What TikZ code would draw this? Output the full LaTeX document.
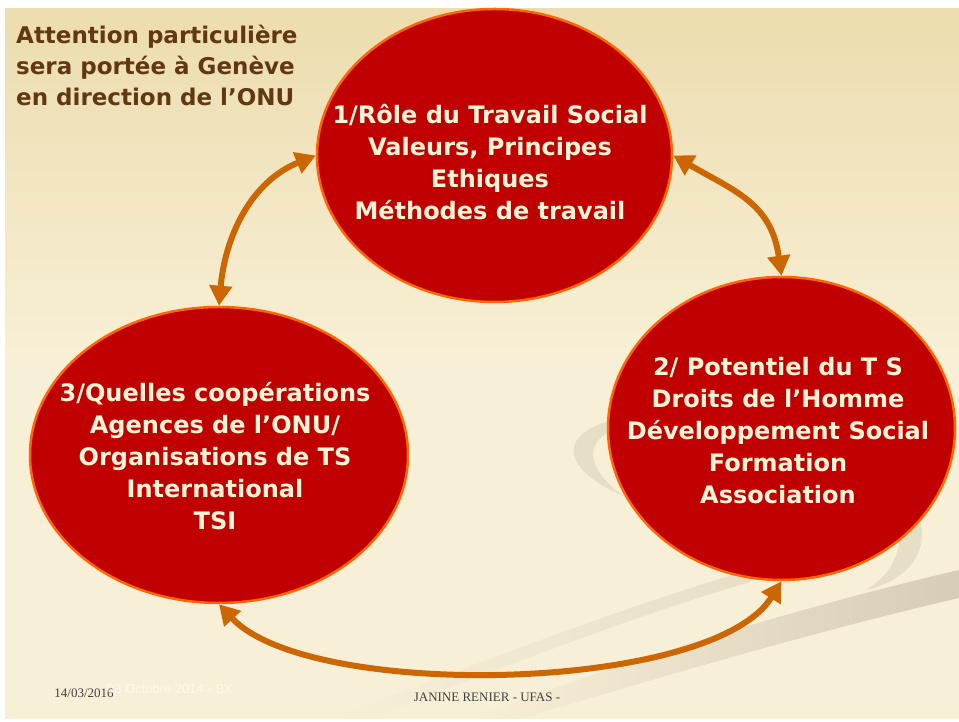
\documentclass[tikz,border=0pt]{standalone}
\usepackage{fontspec}
\setmainfont{DejaVu Sans}
\newfontfamily\footserif{Liberation Serif}
\newfontfamily\footsans{Liberation Sans}
\usetikzlibrary{shapes.geometric,arrows.meta}

\definecolor{bgtop}{RGB}{236,220,174}
\definecolor{bgbot}{RGB}{248,240,214}
\definecolor{discred}{RGB}{192,0,0}
\definecolor{discrim}{RGB}{255,102,0}
\definecolor{arrowc}{RGB}{204,102,0}
\definecolor{cream}{RGB}{250,244,214}
\definecolor{titlec}{RGB}{98,56,18}
\definecolor{swirlA}{RGB}{214,205,180}
\definecolor{swirlB}{RGB}{230,222,197}

\tikzset{
  disc/.style={ellipse, draw=discrim, line width=2.5pt, fill=discred, inner sep=0pt},
  link/.style={arrowc, line width=6pt,
    {Triangle[width=22pt,length=20pt]}-{Triangle[width=22pt,length=20pt]}},
  lbl/.style={font=\bfseries\fontsize{24}{32}\selectfont, align=center, text=cream},
  titlelbl/.style={font=\bfseries\fontsize{23}{31}\selectfont, align=left,
    text=titlec, anchor=north west, inner sep=0pt},
  footlbl/.style={font=\footserif\fontsize{13}{15}\selectfont, text=black!75}
}

\begin{document}
\begin{tikzpicture}[x=1pt, y=1pt]
  \useasboundingbox (0,0) rectangle (959,722);
  % slide background
  \fill[white] (0,0) rectangle (959,722);
  \shade[top color=bgtop, bottom color=bgbot] (5,361) rectangle (959,713);
  \fill[bgbot] (5,3) rectangle (959,361.5);

  % swirls
  \shade[left color=bgbot, right color=swirlA]
    (470,3) .. controls (620,60) and (800,115) .. (959,152)
    -- (959,124) .. controls (820,92) and (650,42) .. (520,3) -- cycle;
  \shade[left color=bgbot, right color=swirlB]
    (330,3) .. controls (470,55) and (620,115) .. (760,155)
    -- (750,140) .. controls (620,102) and (480,45) .. (365,3) -- cycle;
  \fill[swirlB] (915,215) .. controls (935,175) and (910,142) .. (866,132)
    .. controls (895,150) and (905,175) .. (898,215) -- cycle;
  \fill[swirlB] (640,306) .. controls (565,300) and (545,260) .. (625,225)
    .. controls (578,258) and (583,292) .. (640,299) -- cycle;

  % discs
  \node[disc, minimum width=355, minimum height=293] (c1) at (494.5,566.5) {};
  \node[disc, minimum width=347, minimum height=303] (c2) at (781.5,293.5) {};
  \node[disc, minimum width=378, minimum height=296] (c3) at (219,267) {};

  % connectors
  \draw[link] (c3.north) to[out=85, in=202] (c1.west);
  \draw[link] (c1.east) to[out=-30, in=98, looseness=1.15] (c2.north);
  \draw[link] (c3.south) to[out=-47, in=238, looseness=0.6] (c2.south);

  % labels
  \node[lbl] (t1) at (490,560) {1/Rôle du Travail Social\\Valeurs, Principes\\Ethiques\\Méthodes de travail};
  \node[lbl] (t2) at (778,291) {2/ Potentiel du T S\\Droits de l’Homme\\Développement Social\\Formation\\Association};
  \node[lbl] (t3) at (215,266) {3/Quelles coopérations\\Agences de l’ONU/\\Organisations de TS\\International\\TSI};
  \node[titlelbl] (title) at (16,697) {Attention particulière\\sera portée à Genève\\en direction de l’ONU};

  % footer
  \node[footlbl] (date) at (84,29) {14/03/2016};
  \node[font=\footsans\fontsize{13}{15}\selectfont, text=white, opacity=0.6] (old) at (170,33) {03 Octobre 2014 - BX};
  \node[footlbl] (author) at (487,25) {JANINE RENIER - UFAS -};
\end{tikzpicture}
\end{document}
